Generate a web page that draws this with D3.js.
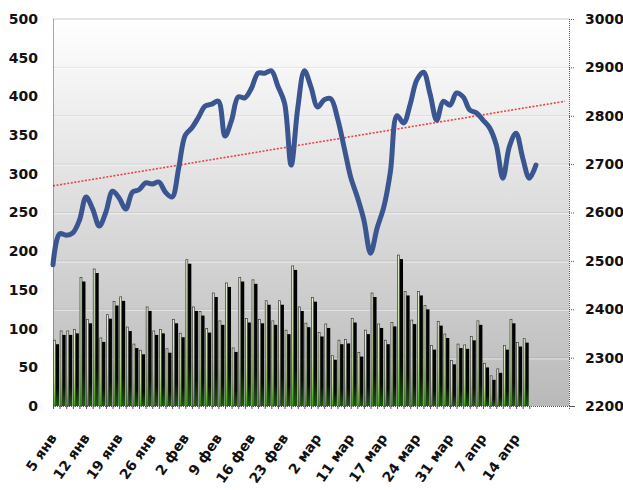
<!DOCTYPE html>
<html>
<head>
<meta charset="utf-8">
<script src="https://cdn.jsdelivr.net/npm/d3@7"></script>
<style>
    body { margin: 0; background: #fff; }
    #chart { width: 623px; height: 490px; }
    text { font-family: "DejaVu Sans", Verdana, sans-serif; font-weight: bold; fill: #111; }
</style>
</head>
<body>
<div id="chart"></div>
<script>
//Datos
const fechas = ['5 янв','12 янв','19 янв','26 янв','2 фев','9 фев','16 фев','23 фев','2 мар','11 мар','17 мар','24 мар','31 мар','7 апр','14 апр'];
const fechasPos = [0,5,10,15,20,25,30,35,40,45,50,55,60,65,70];
const nCategorias = 78;

//Barras (eje izquierdo)
const volumen = [85,97,97,99,166,112,177,88,118,135,141,102,80,72,128,97,99,74,112,
    94,189,128,122,100,146,110,159,75,166,113,163,112,136,110,136,98,181,
    128,107,140,95,106,65,85,86,113,69,98,146,106,85,108,195,148,111,
    148,130,78,109,93,59,80,79,90,110,55,39,48,78,112,82,87];

//Línea (eje derecho)
const indice = [2492,2556,2553,2558,2584,2632,2607,2572,2601,2644,
    2630,2607,2642,2647,2661,2659,2663,2642,2632,2692,
    2760,2775,2797,2820,2824,2830,2758,2791,2839,2837,
    2857,2888,2888,2893,2861,2826,2698,2816,2893,2859,
    2818,2833,2835,2795,2735,2673,2632,2584,2516,2568,
    2611,2684,2800,2785,2824,2874,2890,2845,2791,2830,
    2822,2847,2839,2812,2806,2791,2775,2740,2671,2737,
    2764,2713,2671,2698];

//Tendencia lineal del índice
const tendencia = [2655, 2830];
const tendenciaPos = [0, 77.4];

const ticksIzq = [0,50,100,150,200,250,300,350,400,450,500];
const ticksDer = [2200,2300,2400,2500,2600,2700,2800,2900,3000];

//Colores
const COLOR_LINEA = '#3a5590',
COLOR_TENDENCIA = '#e2454a',
COLOR_EJE = '#555';

let margin = {top: 19, right: 54, bottom: 84, left: 53},
    width = 623 - margin.left - margin.right,
    height = 490 - margin.top - margin.bottom;

let svgRoot = d3.select('#chart')
    .append('svg')
        .attr('width', width + margin.left + margin.right)
        .attr('height', height + margin.top + margin.bottom);

let defs = svgRoot.append('defs');

let gFondo = defs.append('linearGradient').attr('id', 'gradFondo')
    .attr('x1', 0).attr('y1', 0).attr('x2', 0).attr('y2', 1);
gFondo.append('stop').attr('offset', '0%').attr('stop-color', '#ffffff');
gFondo.append('stop').attr('offset', '100%').attr('stop-color', '#b9b9b9');

let gBarra = defs.append('linearGradient').attr('id', 'gradBarra')
    .attr('x1', 0).attr('y1', 0).attr('x2', 0).attr('y2', 1);
gBarra.append('stop').attr('offset', '0%').attr('stop-color', '#e4efd2');
gBarra.append('stop').attr('offset', '55%').attr('stop-color', '#c4dda2');
gBarra.append('stop').attr('offset', '80%').attr('stop-color', '#8cc25a');
gBarra.append('stop').attr('offset', '100%').attr('stop-color', '#36a014');

let gSombra = defs.append('linearGradient').attr('id', 'gradSombra')
    .attr('x1', 0).attr('y1', 0).attr('x2', 0).attr('y2', 1);
gSombra.append('stop').attr('offset', '0%').attr('stop-color', '#000');
gSombra.append('stop').attr('offset', '72%').attr('stop-color', '#070b05');
gSombra.append('stop').attr('offset', '100%').attr('stop-color', '#1f5e10');

let svg = svgRoot.append('g')
    .attr('transform', 'translate(' + margin.left + ',' + margin.top + ')');

//Escalas
let x = d3.scaleLinear()
    .domain([0, nCategorias])
    .range([0, width]);

let yIzq = d3.scaleLinear()
    .domain([0, 500])
    .range([height, 0]);

let yDer = d3.scaleLinear()
    .domain([2200, 3000])
    .range([height, 0]);

let paso = x(1) - x(0);

//Fondo del área de trazado
svg.append('rect')
    .attr('width', width)
    .attr('height', height)
    .attr('fill', 'url(#gradFondo)');

//Líneas de cuadrícula
let grid = svg.append('g');
grid.selectAll('line.osc')
    .data(ticksDer.slice(1, -1))
    .enter()
    .append('line')
    .attr('x1', 0).attr('x2', width)
    .attr('y1', function(d) { return yDer(d); })
    .attr('y2', function(d) { return yDer(d); })
    .attr('stroke', '#000').attr('stroke-opacity', 0.07).attr('stroke-width', 1);
grid.selectAll('line.clara')
    .data(ticksDer.slice(1, -1))
    .enter()
    .append('line')
    .attr('x1', 0).attr('x2', width)
    .attr('y1', function(d) { return yDer(d) + 1.2; })
    .attr('y2', function(d) { return yDer(d) + 1.2; })
    .attr('stroke', '#fff').attr('stroke-opacity', 0.45).attr('stroke-width', 1.2);

svg.append('line')
    .attr('x1', 0).attr('x2', width)
    .attr('y1', 0).attr('y2', 0)
    .attr('stroke', '#c8c8c8');

//Barras con sombra
let barras = svg.append('g');
barras.selectAll('rect.sombra')
    .data(volumen)
    .enter()
    .append('rect')
    .attr('x', function(d, i) { return x(i) + paso * 0.36; })
    .attr('y', function(d) { return yIzq(d) + 4; })
    .attr('width', paso * 0.55)
    .attr('height', function(d) { return Math.max(0, height - yIzq(d) - 4); })
    .attr('fill', 'url(#gradSombra)');

barras.selectAll('rect.barra')
    .data(volumen)
    .enter()
    .append('rect')
    .attr('x', function(d, i) { return x(i) + paso * 0.08; })
    .attr('y', function(d) { return yIzq(d); })
    .attr('width', paso * 0.3)
    .attr('height', function(d) { return height - yIzq(d); })
    .attr('fill', 'url(#gradBarra)')
    .attr('stroke', '#3a3a3a')
    .attr('stroke-width', 0.7);

//Tendencia
svg.append('line')
    .attr('x1', x(tendenciaPos[0])).attr('y1', yDer(tendencia[0]))
    .attr('x2', x(tendenciaPos[1])).attr('y2', yDer(tendencia[1]))
    .attr('stroke', COLOR_TENDENCIA)
    .attr('stroke-width', 1.6)
    .attr('stroke-dasharray', '2,1.6');

//Línea del índice
let linea = d3.line()
    .x(function(d, i) { return x(i); })
    .y(function(d) { return yDer(d); })
    .curve(d3.curveCatmullRom.alpha(0.5));

svg.append('path')
    .datum(indice)
    .attr('d', linea)
    .attr('fill', 'none')
    .attr('stroke', COLOR_LINEA)
    .attr('stroke-width', 5)
    .attr('stroke-linecap', 'round')
    .attr('stroke-linejoin', 'round');

//Ejes
let ejeIzq = svg.append('g')
    .call(d3.axisLeft(yIzq).tickValues(ticksIzq).tickSize(0).tickPadding(15).tickFormat(d3.format('d')));
ejeIzq.select('.domain').attr('stroke', COLOR_EJE).attr('stroke-dasharray', '1,1');
ejeIzq.selectAll('text').style('font-size', '14px');

let ejeDer = svg.append('g')
    .attr('transform', 'translate(' + width + ',0)')
    .call(d3.axisRight(yDer).tickValues(ticksDer).tickSize(6).tickPadding(10).tickFormat(d3.format('d')));
ejeDer.select('.domain').attr('stroke', COLOR_EJE).attr('stroke-dasharray', '1,1');
ejeDer.selectAll('.tick line').attr('stroke', COLOR_EJE).attr('stroke-dasharray', '1,1');
ejeDer.selectAll('text').style('font-size', '14px');

let ejeX = svg.append('g')
    .attr('transform', 'translate(0,' + height + ')')
    .call(d3.axisBottom(x).tickValues(d3.range(0, volumen.length + 1)).tickSize(3).tickFormat(''));
ejeX.select('.domain').attr('stroke', COLOR_EJE).attr('stroke-dasharray', '1,1');
ejeX.selectAll('.tick line').attr('stroke', COLOR_EJE);

//Etiquetas de fechas
svg.append('g')
    .selectAll('text')
    .data(fechas)
    .enter()
    .append('text')
    .attr('text-anchor', 'end')
    .style('font-size', '14px')
    .attr('transform', function(d, i) {
        return 'translate(' + (x(fechasPos[i] + 0.5) + 1) + ',' + (height + 32) + ') rotate(-55)';
    })
    .text(function(d) { return d; });
</script>
</body>
</html>
